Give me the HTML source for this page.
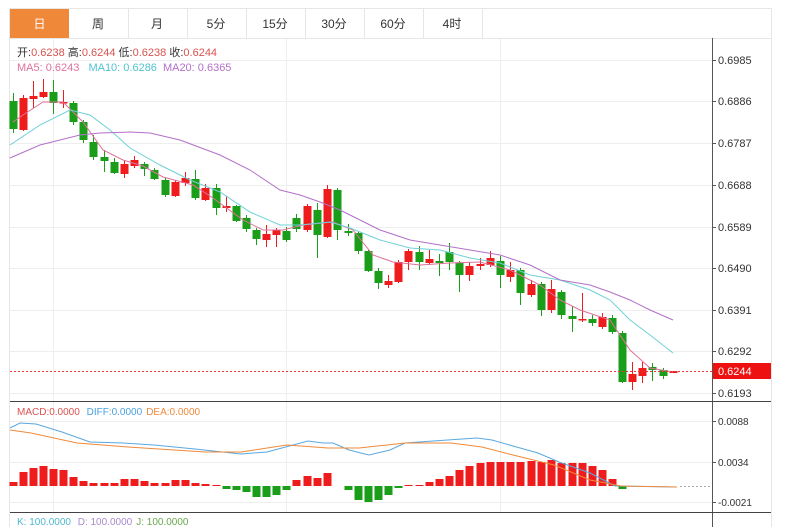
<!DOCTYPE html>
<html><head><meta charset="utf-8">
<style>
html,body{margin:0;padding:0;background:#fff;width:800px;height:527px;overflow:hidden}
svg{display:block}
text{font-family:"Liberation Sans","Noto Sans CJK SC",sans-serif}
</style></head>
<body>
<svg id="s" width="800" height="527" xmlns="http://www.w3.org/2000/svg">
<rect x="0" y="0" width="800" height="527" fill="#fff"/>
<!-- container -->
<rect x="9.5" y="8.5" width="762" height="530" fill="none" stroke="#e6e6e6"/>
<line x1="10" y1="38.5" x2="771" y2="38.5" stroke="#e6e6e6"/>
<!-- tabs -->
<rect x="10" y="9" width="59" height="29" fill="#f0883a"/>
<g fill="#333" font-size="12" text-anchor="middle">
<text x="39.5" y="28" fill="#fff">日</text>
<text x="98" y="28">周</text>
<text x="157" y="28">月</text>
<text x="216" y="28">5分</text>
<text x="275" y="28">15分</text>
<text x="334" y="28">30分</text>
<text x="393" y="28">60分</text>
<text x="452" y="28">4时</text>
</g>
<g stroke="#e6e6e6">
<line x1="128.5" y1="9" x2="128.5" y2="38"/><line x1="187.5" y1="9" x2="187.5" y2="38"/>
<line x1="246.5" y1="9" x2="246.5" y2="38"/><line x1="305.5" y1="9" x2="305.5" y2="38"/>
<line x1="364.5" y1="9" x2="364.5" y2="38"/><line x1="423.5" y1="9" x2="423.5" y2="38"/>
<line x1="482.5" y1="9" x2="482.5" y2="38"/>
</g>
<!-- grid -->
<g id="grid" stroke="#eeeeee"></g>
<!-- axes -->
<line x1="712.5" y1="38" x2="712.5" y2="527" stroke="#555"/>
<line x1="10" y1="401.5" x2="771" y2="401.5" stroke="#444"/>
<line x1="10" y1="512.5" x2="771" y2="512.5" stroke="#444"/>
<g id="ticks" font-size="11" fill="#333"></g>
<g id="candles"></g>
<g id="ma" fill="none" stroke-width="1"></g>
<!-- price line -->
<line x1="10" y1="371.5" x2="712" y2="371.5" stroke="#e33" stroke-dasharray="2,2" stroke-width="1"/>
<rect x="713" y="363" width="58" height="16" fill="#ee1111"/>
<text x="718" y="375" font-size="11" fill="#fff">0.6244</text>
<!-- headers -->
<g font-size="11">
<text x="17" y="56" fill="#333">开:<tspan fill="#d9534f">0.6238</tspan>  高:<tspan fill="#d9534f">0.6244</tspan>  低:<tspan fill="#d9534f">0.6238</tspan>  收:<tspan fill="#d9534f">0.6244</tspan></text>
<text x="17" y="71" fill="#e0709a">MA5: 0.6243 <tspan fill="#4fc3d0" dx="6">MA10: 0.6286</tspan><tspan fill="#b370c8" dx="6">MA20: 0.6365</tspan></text>
<text x="17" y="415" fill="#d9534f" font-size="10">MACD:0.0000 <tspan fill="#4a9fe0" dx="4">DIFF:0.0000</tspan><tspan fill="#f08a3a" dx="4">DEA:0.0000</tspan></text>
<text x="17" y="525" fill="#4fb8d0" font-size="10">K: 100.0000 <tspan fill="#a98ad0" dx="4">D: 100.0000</tspan><tspan fill="#6aa84f" dx="4">J: 100.0000</tspan></text>
</g>
<g id="macd"></g>
<line x1="680" y1="486.5" x2="712" y2="486.5" stroke="#aaa" stroke-dasharray="2,2"/>
</svg>
<script>
var NS="http://www.w3.org/2000/svg";
function el(p,t,a){var e=document.createElementNS(NS,t);for(var k in a)e.setAttribute(k,a[k]);document.getElementById(p).appendChild(e);return e;}
// grid
var ty=[60,101,143,185,227,268,310,351,393],tl=["0.6985","0.6886","0.6787","0.6688","0.6589","0.6490","0.6391","0.6292","0.6193"];
ty.forEach(function(y,i){el("grid","line",{x1:10,y1:y+.5,x2:712,y2:y+.5});el("ticks","line",{x1:712,y1:y+.5,x2:716,y2:y+.5,stroke:"#555"});var t=el("ticks","text",{x:718,y:y+4});t.textContent=tl[i];});
[[421,"0.0088"],[462,"0.0034"],[502,"-0.0021"]].forEach(function(a){el("grid","line",{x1:10,y1:a[0]+.5,x2:712,y2:a[0]+.5});el("ticks","line",{x1:712,y1:a[0]+.5,x2:716,y2:a[0]+.5,stroke:"#555"});var t=el("ticks","text",{x:718,y:a[0]+4,"font-size":"10"});t.textContent=a[1];});
[53,286,500].forEach(function(x){el("grid","line",{x1:x+.5,y1:39,x2:x+.5,y2:512});});
// candles: [x, color, top, bottom, wickTop, wickBottom]
var C=[[13,"g",101,129,93,133],[23,"r",98,130,95,131],[33,"r",96,99,81,108],[43,"r",92,97,79,98],[53,"g",92,103,80,114],[63,"r",102,103,90,108],
[73,"g",103,122,101,125],[83,"g",122,140,120,143],[93,"g",142,157,135,160],[104,"g",157,161,150,172],[114,"g",162,173,158,174],[124,"r",164,174,160,178],
[134,"r",160,166,156,168],[144,"g",164,169,162,176],[154,"g",170,179,168,180],[165,"g",180,195,178,197],[175,"r",182,196,180,197],[185,"r",178,183,172,186],
[195,"g",179,198,170,200],[205,"r",188,200,184,201],[216,"g",188,208,184,215],[226,"r",206,208,196,212],[236,"g",206,221,205,222],[246,"g",218,229,215,232],
[256,"g",230,239,228,245],[266,"r",234,240,225,247],[276,"r",230,235,228,247],[286,"g",231,240,227,242],[296,"g",218,229,214,232],[307,"r",206,230,204,232],
[317,"g",210,235,203,258],[327,"r",189,237,185,238],[337,"g",190,230,188,240],[348,"g",231,233,224,236],[358,"g",233,251,232,254],[368,"g",251,271,250,272],
[378,"g",271,283,268,289],[388,"r",281,285,275,288],[398,"r",262,282,260,283],[408,"r",251,262,249,270],[419,"g",252,262,246,270],[429,"r",259,263,250,265],
[439,"g",261,263,254,276],[449,"g",252,262,243,270],[459,"g",263,275,261,292],[469,"r",266,275,262,281],[480,"r",264,266,258,270],[490,"r",258,265,251,267],
[500,"g",261,275,256,288],[510,"r",270,277,262,282],[520,"g",270,293,268,305],[531,"r",284,295,280,297],[541,"g",284,310,282,316],[551,"r",289,310,280,313],
[561,"g",292,315,290,319],[572,"g",316,319,306,332],[582,"r",319,320,293,322],[592,"g",319,323,315,326],[602,"r",317,327,313,329],[612,"g",318,332,315,334],
[622,"g",333,382,331,383],[632,"r",374,382,362,390],[642,"r",368,376,362,383],[652,"g",367,370,363,381],[663,"g",370,376,368,379],[673,"r",371,373,371,373]];
C.forEach(function(c){var col=c[1]=="g"?"#1a9e1a":"#ee1c1c";
el("candles","line",{x1:c[0]+.5,y1:c[4],x2:c[0]+.5,y2:c[5],stroke:col});
el("candles","rect",{x:c[0]-3.5,y:c[2],width:8,height:Math.max(1.5,c[3]-c[2]),fill:col});});
function pl(id,pts,col){el(id,"polyline",{points:pts.map(function(p){return p.join(",")}).join(" "),stroke:col,fill:"none"});}
pl("ma",[[13,122],[23,115],[43,102],[63,102],[83,122],[103,150],[123,160],[143,166],[163,177],[193,185],[213,198],[243,220],[263,230],[283,230],[303,225],[333,222],[353,230],[373,255],[393,262],[420,265],[450,263],[480,262],[510,270],[540,285],[560,300],[580,310],[610,320],[630,350],[650,368],[673,372]],"#e0709a");
pl("ma",[[10,145],[40,125],[70,110],[90,115],[110,130],[130,148],[160,165],[190,180],[220,192],[250,212],[280,225],[300,225],[330,222],[350,228],[380,240],[410,248],[440,250],[470,258],[500,263],[530,275],[560,280],[590,290],[610,300],[630,320],[650,335],[673,353]],"#6fd0d8");
pl("ma",[[10,158],[40,145],[80,135],[100,133],[130,132],[150,133],[180,140],[220,155],[250,170],[280,190],[300,195],[320,202],[340,210],[360,220],[380,230],[410,240],[440,245],[470,250],[500,255],[530,265],[560,280],[590,285],[610,292],[630,300],[650,310],[673,320]],"#b370c8");
// MACD bars
var Z=486,B=[482,472,468,466,469,470,477,481,483,483,483,479,479,481,483,483,480,480,483,484,485,
489,490,492,497,497,495,490,480,476,478,473,486,490,500,502,500,495,488,
485,485,482,479,476,470,466,463,462,462,462,462,461,462,460,463,463,463,466,470,479,489,486,486,486,486,486];
C.forEach(function(c,i){var v=B[i];if(v==Z)return;var col=v<Z?"#ee1c1c":"#1a9e1a";
el("macd","rect",{x:c[0]-3.5,y:Math.min(v,Z),width:8,height:Math.abs(v-Z),fill:col});});
pl("macd",[[10,428],[20,423],[36,424],[62,432],[90,442],[123,443],[154,445],[195,449],[241,454],[267,452],[308,441],[323,443],[333,443],[349,450],[369,455],[390,450],[405,443],[462,439],[477,438],[492,440],[513,446],[538,453],[559,462],[590,473],[615,486],[677,487]],"#5aa8e0");
pl("macd",[[10,430],[31,433],[77,443],[128,447],[205,452],[241,452],[287,445],[328,448],[359,448],[405,443],[451,443],[482,447],[513,455],[554,465],[590,480],[621,486],[677,487]],"#f08a3a");
</script>
</body></html>
